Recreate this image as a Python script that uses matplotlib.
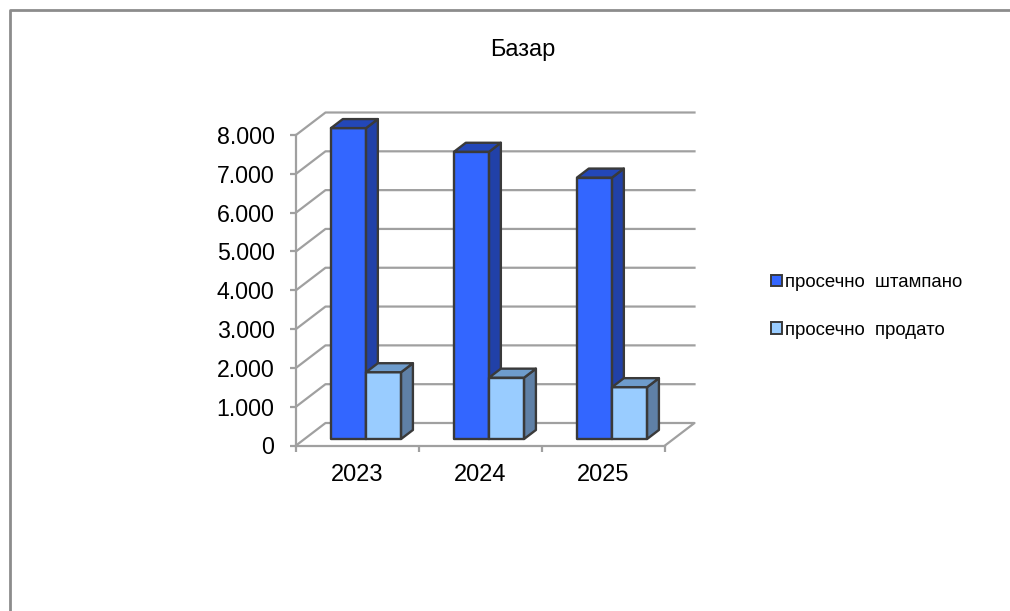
#coding=utf-8
import matplotlib
matplotlib.use('Agg')
import matplotlib.pyplot as plt
from matplotlib.lines import Line2D
from matplotlib.patches import Patch

years = ['2023', '2024', '2025']
stamped = [8010, 7400, 6735]
sold = [1720, 1580, 1335]
y_ticks = [0, 1000, 2000, 3000, 4000, 5000, 6000, 7000, 8000]
y_tick_labels = ['0', '1.000', '2.000', '3.000', '4.000', '5.000', '6.000', '7.000', '8.000']
series_names = ['просечно  штампано', 'просечно  продато']

plt.rcParams['font.family'] = ['Liberation Sans', 'DejaVu Sans']

W, H = 1010, 611
# plot box in pixels, the depth of the 3d box sits inside it
left, right, bottom, top = 296, 694.5, 445.5, 112.5
front_right = 665
y8000 = 135

fig = plt.figure(figsize=(W / 100, H / 100), dpi=100)
ax = fig.add_axes([left / W, 1 - bottom / H, (right - left) / W, (bottom - top) / H])
ax.patch.set_alpha(0)

px_x = len(years) / (front_right - left)
px_y = 8000 / (bottom - y8000)
ax.set_xlim(0, (right - left) * px_x)
ax.set_ylim(0, (bottom - top) * px_y)

depth_x = (right - front_right) * px_x
depth_y = (y8000 - top) * px_y


def proj(x, y, d):
  # d: 0 front of the box, 1 back wall
  return x + d * depth_x, y + d * depth_y


grid = '#a0a0a0'
for v in y_ticks:
  pts = [proj(0, v, 0), proj(0, v, 1), proj(len(years), v, 1)]
  if v == 0:
    pts.append(proj(len(years), v, 0))
  ax.plot([p[0] for p in pts], [p[1] for p in pts], color=grid, lw=1.6, zorder=1, clip_on=False)


def draw_bar(x0, x1, h, d0, d1, front, side, topc):
  edge = '#3a3a3a'
  faces = [
    ([proj(x0, 0, d0), proj(x1, 0, d0), proj(x1, h, d0), proj(x0, h, d0)], front),
    ([proj(x1, 0, d0), proj(x1, 0, d1), proj(x1, h, d1), proj(x1, h, d0)], side),
    ([proj(x0, h, d0), proj(x1, h, d0), proj(x1, h, d1), proj(x0, h, d1)], topc),
  ]
  for pts, col in faces:
    ax.fill([p[0] for p in pts], [p[1] for p in pts], facecolor=col, edgecolor=edge,
            lw=1.7, zorder=3, clip_on=False, joinstyle='round')


bar_w = 0.285
gap = (1 - 2 * bar_w) / 2
d0, d1 = 0.29, 0.69
for i in range(len(years)):
  x0 = i + gap
  draw_bar(x0, x0 + bar_w, stamped[i], d0, d1, '#3366ff', '#2141a8', '#2347b8')
  draw_bar(x0 + bar_w, x0 + 2 * bar_w, sold[i], d0, d1, '#99ccff', '#5f80a6', '#6e9ccc')

for s in ['top', 'right']:
  ax.spines[s].set_visible(False)
ax.spines['left'].set_bounds(0, 8000)
ax.spines['bottom'].set_bounds(0, len(years))
for s in ['left', 'bottom']:
  ax.spines[s].set_color(grid)
  ax.spines[s].set_linewidth(1.6)

ax.set_yticks(y_ticks)
ax.set_yticklabels(y_tick_labels)
ax.tick_params(axis='y', length=4.5, width=1.6, color=grid, labelsize=16.7, pad=11)
ax.set_xticks(range(len(years) + 1))
ax.set_xticklabels([])
ax.set_xticks([i + 0.5 for i in range(len(years))], minor=True)
ax.set_xticklabels(years, minor=True)
ax.tick_params(axis='x', which='major', length=4.5, width=1.6, color=grid)
ax.tick_params(axis='x', which='minor', length=0, labelsize=17, pad=13.5)

fig.text(522.5 / W, 1 - 50 / H, 'Базар', ha='center', va='center', fontsize=17)

handles = [Patch(facecolor='#3366ff', edgecolor='#3a3a3a', lw=1.4),
           Patch(facecolor='#99ccff', edgecolor='#3a3a3a', lw=1.4)]
fig.legend(handles, series_names, loc='center left', bbox_to_anchor=(754.5 / W, 1 - 306.5 / H),
           frameon=False, fontsize=13.4, handlelength=0.6, handleheight=0.6,
           handletextpad=0.16, labelspacing=1.65)

# outer chart frame, only top and left show up
frame = '#8c8c8c'
fig.add_artist(Line2D([10 / W, 10 / W, 1], [0, 1 - 9.5 / H, 1 - 9.5 / H],
                      transform=fig.transFigure, color=frame, lw=2))

fig.savefig('out.png', dpi=100)
